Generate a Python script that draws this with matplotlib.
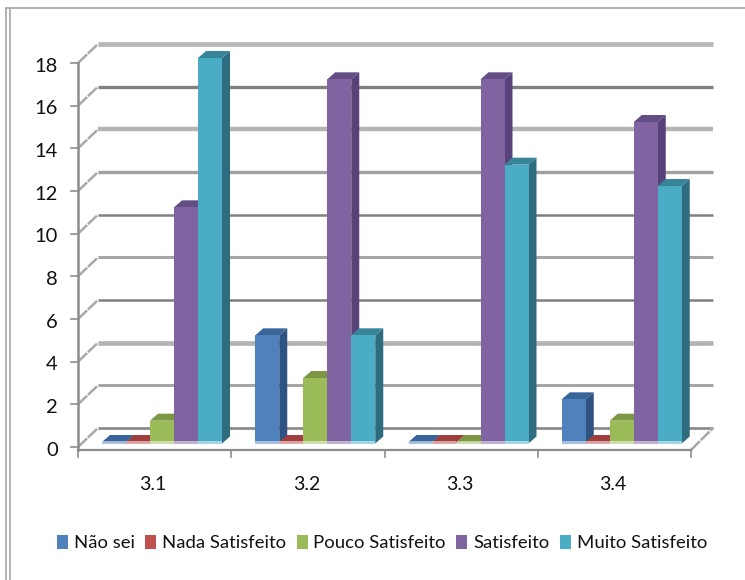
import matplotlib
matplotlib.use("Agg")
import matplotlib.pyplot as plt
from matplotlib.lines import Line2D
from matplotlib.patches import Polygon, Rectangle

categories = ["3.1", "3.2", "3.3", "3.4"]
nao_sei = [0, 5, 0, 2]
nada_satisfeito = [0, 0, 0, 0]
pouco_satisfeito = [1, 3, 0, 1]
satisfeito = [11, 17, 17, 15]
muito_satisfeito = [18, 5, 13, 12]
series_names = ["Não sei", "Nada Satisfeito", "Pouco Satisfeito", "Satisfeito", "Muito Satisfeito"]
y_ticks = list(range(0, 20, 2))

series = [nao_sei, nada_satisfeito, pouco_satisfeito, satisfeito, muito_satisfeito]
front_colors = ["#4f81bd", "#c0504d", "#9bbb59", "#8064a2", "#4bacc6"]
side_colors = ["#2f5381", "#8a3533", "#6c8439", "#57437a", "#2f6c80"]
top_colors = ["#3a659b", "#a03f3d", "#7c9644", "#634d85", "#388499"]
# resampled source: each gridline came out a bit different, bottom to top
grid_colors = ["#8c8c8c", "#a0a0a0", "#b4b4b4", "#808080", "#a6a6a6", "#808080", "#a0a0a0", "#b4b4b4", "#808080", "#b6b6b6"]
grid_widths = [2.0, 2.0, 3.4, 1.8, 2.2, 1.8, 2.4, 3.2, 2.4, 3.4]

W, H = 745, 580
fig = plt.figure(figsize=(W / 100, H / 100), dpi=100)
plt.rcParams["font.family"] = ["Lato", "DejaVu Sans"]

# axes box = front face of the 3D chart
x0, x1, y_top, y_bot = 78, 691, 63, 447
ax = fig.add_axes([x0 / W, 1 - y_bot / H, (x1 - x0) / W, (y_bot - y_top) / H])
ax.set_xlim(0, 4)
ax.set_ylim(0, 18)
ax.axis("off")

px_x = 4 / (x1 - x0)
px_y = 18 / (y_bot - y_top)
wall_dx, wall_dy = 20 * px_x, 19 * px_y
depth_x, depth_y = 8 * px_x, 7 * px_y
base_dx, base_dy = 24 * px_x, 3.5 * px_y
foot = 1.5 * px_y
bar_w = 24 * px_x
grey = "#8c8c8c"

# back wall gridlines and the diagonal floor/wall joins
for t, c, lw in zip(y_ticks, grid_colors, grid_widths):
    ax.plot([wall_dx, 4 + 22 * px_x], [t + wall_dy, t + wall_dy], color=c, lw=lw, solid_capstyle="butt",
            clip_on=False, zorder=1)
    ax.plot([0, wall_dx], [t, t + wall_dy], color="#a8a8a8", lw=1.8, ls=(0, (5, 0.5)), clip_on=False, zorder=1)
    ax.plot([-7 * px_x, 0], [t, t], color=grey, lw=1.2, clip_on=False, zorder=3)
    ax.text(-20 * px_x, t - 3 * px_y, str(t), ha="right", va="center", fontsize=14.5, color="#111111",
            clip_on=False)

# axis lines
ax.plot([0, 0], [-3 * px_y, 18], color=grey, lw=1.8, clip_on=False, zorder=3)
ax.plot([0, 4], [-3 * px_y, -3 * px_y], color=grey, lw=1.6, clip_on=False, zorder=3)
ax.plot([4, 4 + 22 * px_x], [-3 * px_y, wall_dy], color="#a8a8a8", lw=1.8, ls=(0, (5, 0.5)), clip_on=False, zorder=1)
for i in range(5):
    ax.plot([i, i], [-3 * px_y, -10 * px_y], color=grey, lw=1.2, clip_on=False, zorder=3)

for i, name in enumerate(categories):
    ax.text(i + 0.49, -38 * px_y, name, ha="center", va="center", fontsize=14, color="#111111", clip_on=False)

# bars, drawn left to right per category so neighbours overlap the side faces
for i in range(len(categories)):
    for s, values in enumerate(series):
        v = values[i]
        left = i + base_dx + s * bar_w
        right = left + bar_w
        bottom = base_dy
        top = v + base_dy + foot
        ax.add_patch(Polygon([(right, bottom), (right + depth_x, bottom + depth_y),
                              (right + depth_x, top + depth_y), (right, top)],
                             facecolor=side_colors[s], edgecolor="none", zorder=4 + s, clip_on=False))
        ax.add_patch(Polygon([(left, top), (left + depth_x, top + depth_y),
                              (right + depth_x, top + depth_y), (right, top)],
                             facecolor=top_colors[s], edgecolor="none", zorder=4 + s, clip_on=False))
        ax.bar(left, v + foot, width=bar_w, bottom=bottom, align="edge", color=front_colors[s], zorder=4 + s,
               clip_on=False)
        # pale strip along the foot of each bar
        ax.add_patch(Rectangle((left, bottom), bar_w, 2.5 * px_y, facecolor="white", edgecolor="none",
                               alpha=0.5, zorder=4.5 + s, clip_on=False))

# legend
handles = [Rectangle((0, 0), 1, 1, facecolor=c) for c in front_colors]
fig.legend(handles, series_names, loc="center", bbox_to_anchor=(382 / W, 1 - 543 / H), ncol=5, frameon=False,
           fontsize=13.3, handlelength=0.6, handleheight=0.8, handletextpad=0.32, columnspacing=0.55,
           labelcolor="#111111", borderpad=0, borderaxespad=0)

# chart frame lines
frame = [([6.5, 6.5], [8, H]), ([9.5, 9.5], [8, H]), ([6, 745], [8, 8])]
for xs, ys in frame:
    fig.add_artist(Line2D([x / W for x in xs], [1 - y / H for y in ys], color="#a6a6a6", lw=1.2))

fig.savefig("out.png", dpi=100)
